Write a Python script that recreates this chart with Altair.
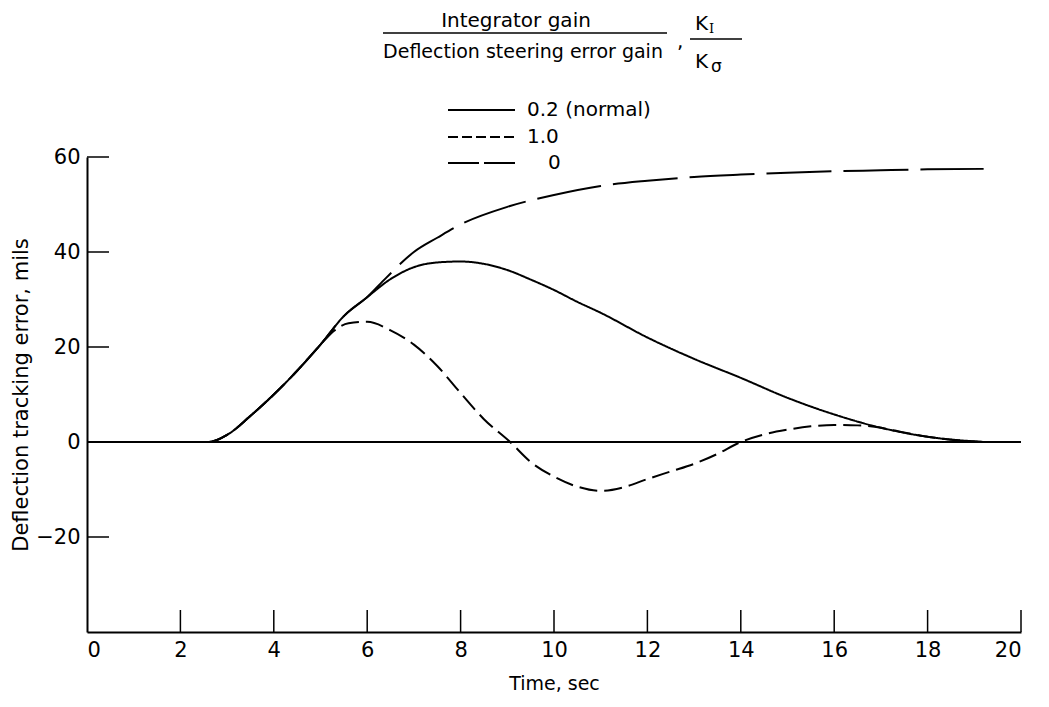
import altair as alt
import pandas as pd

FONT = "DejaVu Sans"
W, H = 934, 475

# ---- data ----
series_labels = ["0.2 (normal)", "1.0", "0"]

t_normal = [0, 2.6, 3.0, 3.5, 4.0, 4.5, 5.0, 5.5, 6.0, 6.5, 7.0, 7.5, 8.0, 8.5, 9.0,
            9.5, 10.0, 10.5, 11.0, 12.0, 13.0, 14.0, 15.0, 16.0, 17.0, 18.0, 19.2]
v_normal = [0, 0, 1.5, 5.5, 10, 15, 20.5, 26.5, 30.5, 34.3, 36.8, 37.8, 38, 37.5, 36.2,
            34.2, 32, 29.5, 27.2, 22, 17.5, 13.5, 9.3, 5.8, 3.0, 1.1, 0]

t_one = [0, 2.6, 3.0, 3.5, 4.0, 4.5, 5.0, 5.3, 5.6, 6.0, 6.5, 7.0, 7.5, 8.0, 8.5, 9.06,
         9.5, 10.0, 10.5, 11.0, 11.5, 12.0, 12.5, 13.0, 13.5, 14.0, 14.5, 15.0, 15.5,
         16.0, 16.5, 17.0, 17.3, 18.0, 19.2]
v_one = [0, 0, 1.5, 5.5, 10, 15, 20.5, 23.5, 25, 25.3, 23.5, 20.5, 16, 10.3, 4.8, 0,
         -4.2, -7.3, -9.4, -10.3, -9.5, -7.8, -6.2, -4.6, -2.5, 0, 1.6, 2.6, 3.3,
         3.6, 3.5, 3.0, 2.4, 1.1, 0]

t_zero = [0, 2.6, 3.0, 3.5, 4.0, 4.5, 5.0, 5.5, 6.0, 6.4, 7.0, 7.5, 8.0, 9.0, 10.0,
          11.0, 12.0, 13.0, 14.0, 15.0, 16.0, 17.0, 18.0, 19.2]
v_zero = [0, 0, 1.5, 5.5, 10, 15, 20.5, 26.5, 30.5, 34.5, 40, 43, 45.8, 49.5, 52,
          53.9, 55, 55.8, 56.3, 56.7, 57, 57.2, 57.4, 57.5]

x_ticks = [0, 2, 4, 6, 8, 10, 12, 14, 16, 18, 20]
y_ticks = [-20, 0, 20, 40, 60]

rows = []
for lab, ts, vs in zip(series_labels, [t_normal, t_one, t_zero], [v_normal, v_one, v_zero]):
    for t, v in zip(ts, vs):
        rows.append({"t": t, "v": v, "series": lab})
df = pd.DataFrame(rows)

dash_plot = [[1, 0], [18, 7], [65, 12]]
dash_legend = [[1, 0], [10, 4], [31, 5]]

xscale = alt.Scale(domain=[0, 20], nice=False, zero=False)
yscale = alt.Scale(domain=[-40, 60], nice=False, zero=False)

lines = alt.Chart(df).mark_line(color="black", strokeWidth=2, interpolate="monotone").encode(
    x=alt.X("t:Q", scale=xscale,
            axis=alt.Axis(values=x_ticks, title="Time, sec", labelPadding=7,
                          titlePadding=14, titleFontSize=19)),
    y=alt.Y("v:Q", scale=yscale,
            axis=alt.Axis(values=y_ticks, title="Deflection tracking error, mils",
                          labelPadding=7, titlePadding=4, titleFontSize=21)),
    strokeDash=alt.StrokeDash("series:N",
                              scale=alt.Scale(domain=series_labels, range=dash_plot),
                              legend=None),
    detail="series:N",
)

zero_line = alt.Chart(pd.DataFrame({"t": [0], "t2": [20], "v": [0]})).mark_rule(
    color="black", strokeWidth=2).encode(x=alt.X("t:Q", scale=xscale), x2="t2:Q",
                                        y=alt.Y("v:Q", scale=yscale))

ytick_rules = alt.Chart(pd.DataFrame({"v": y_ticks})).mark_rule(
    color="black", strokeWidth=1.5).encode(
    y=alt.Y("v:Q", scale=yscale), x=alt.value(0), x2=alt.value(22))

xtick_rules = alt.Chart(pd.DataFrame({"t": x_ticks[1:]})).mark_rule(
    color="black", strokeWidth=1.5).encode(
    x=alt.X("t:Q", scale=xscale), y=alt.value(H), y2=alt.value(H - 22))

layers = [zero_line, lines, ytick_rules, xtick_rules]

# ---- title (fraction) ----
def txt(s, x, y, size=20, align="center", baseline="alphabetic", font=FONT):
    return alt.Chart(pd.DataFrame({"s": [s]})).mark_text(
        font=font, fontSize=size, align=align, baseline=baseline, color="black"
    ).encode(text="s:N", x=alt.value(x), y=alt.value(y))

def hrule(x1, x2, y, w=1.5, dash=None):
    kw = dict(color="black", strokeWidth=w)
    if dash is not None:
        kw["strokeDash"] = dash
    return alt.Chart(pd.DataFrame({"a": [0]})).mark_rule(**kw).encode(
        x=alt.value(x1), x2=alt.value(x2), y=alt.value(y))

layers += [
    txt("Integrator gain", 429, -130, size=20),
    hrule(296, 580, -124),
    txt("Deflection steering error gain", 436, -99, size=19),
    txt(",", 590, -109, size=20, align="left"),
    txt("K", 608, -127, size=20, align="left"),
    txt("I", 622, -124, size=13, align="left", font="DejaVu Serif"),
    hrule(603, 655, -118),
    txt("K", 608, -89, size=20, align="left"),
    txt("σ", 624, -85, size=17, align="left"),
]

# ---- legend ----
legend_y = [-47, -20, 6]
legend_x = [440, 440, 461]
for lab, dash, ly, lx in zip(series_labels, dash_legend, legend_y, legend_x):
    layers.append(hrule(361, 428, ly, w=2, dash=dash))
    layers.append(txt(lab, lx, ly, size=20, align="left", baseline="middle"))

chart = alt.layer(*layers).properties(
    width=W, height=H,
    autosize=alt.AutoSizeParams(type="none"),
    padding={"left": 79, "top": 149, "right": 20, "bottom": 66},
    background="white",
).configure_view(stroke=None).configure_axis(
    grid=False, ticks=False, domainColor="black", domainWidth=2,
    labelFont=FONT, labelFontSize=21, labelColor="black",
    titleFont=FONT, titleColor="black", titleFontWeight="normal",
)

chart.save("out.html", embed_options={"renderer": "svg", "actions": False})
